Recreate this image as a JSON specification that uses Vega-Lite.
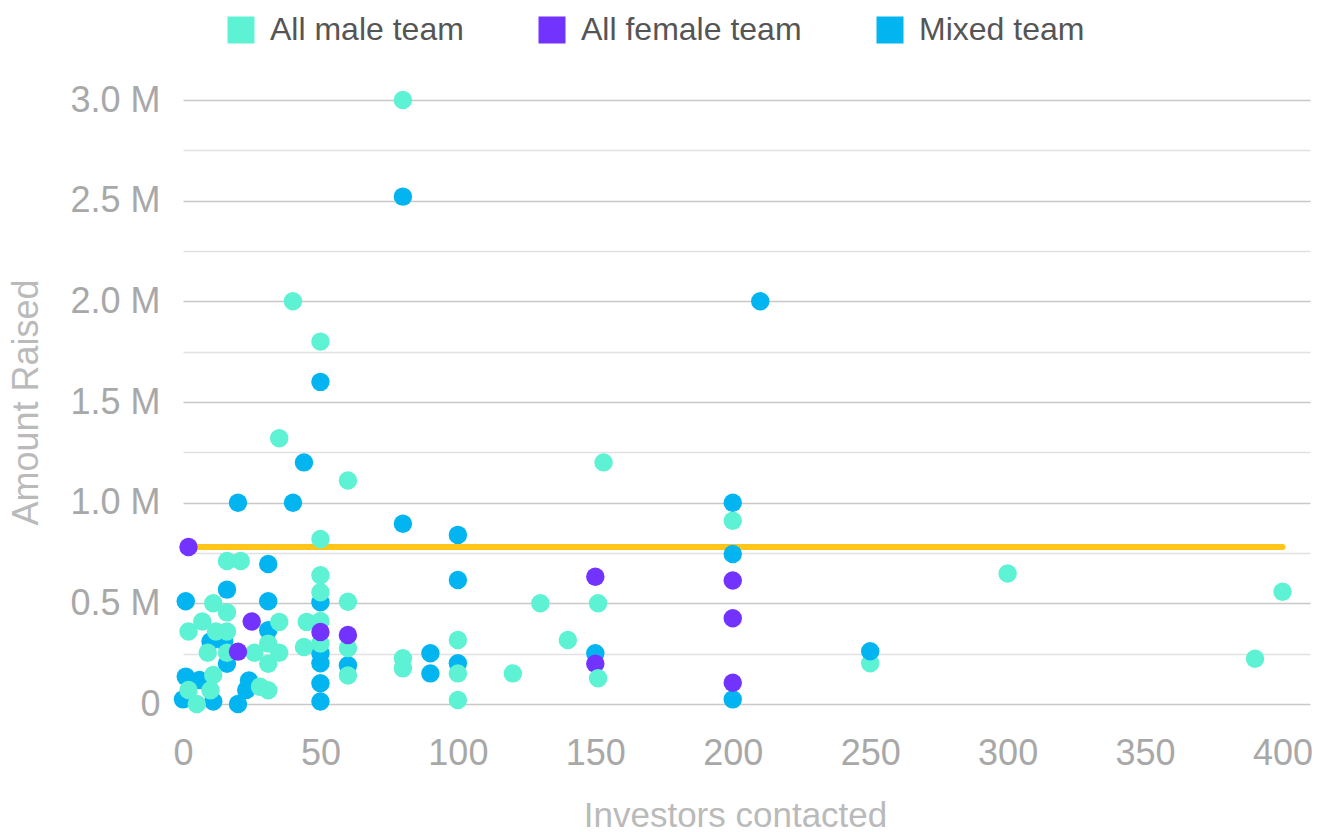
{
  "$schema": "https://vega.github.io/schema/vega-lite/v6.json",
  "width": 1127,
  "height": 604,
  "autosize": "none",
  "padding": {"left": 183, "top": 100, "right": 13, "bottom": 128},
  "config": {"view": {"stroke": null}, "font": "Liberation Sans"},
  "datasets": {
    "mean": [
      {"investors": 2, "amount": 780000},
      {"investors": 400, "amount": 780000}
    ],
    "startups": [
      {"investors": 80, "amount": 2520000, "team": "Mixed team"},
      {"investors": 210, "amount": 2000000, "team": "Mixed team"},
      {"investors": 50, "amount": 1600000, "team": "Mixed team"},
      {"investors": 44, "amount": 1200000, "team": "Mixed team"},
      {"investors": 20, "amount": 1000000, "team": "Mixed team"},
      {"investors": 40, "amount": 1000000, "team": "Mixed team"},
      {"investors": 80, "amount": 895000, "team": "Mixed team"},
      {"investors": 100, "amount": 840000, "team": "Mixed team"},
      {"investors": 31, "amount": 695000, "team": "Mixed team"},
      {"investors": 100, "amount": 616000, "team": "Mixed team"},
      {"investors": 16, "amount": 568000, "team": "Mixed team"},
      {"investors": 1, "amount": 510000, "team": "Mixed team"},
      {"investors": 31, "amount": 510000, "team": "Mixed team"},
      {"investors": 50, "amount": 505000, "team": "Mixed team"},
      {"investors": 31, "amount": 366000, "team": "Mixed team"},
      {"investors": 10, "amount": 310000, "team": "Mixed team"},
      {"investors": 15, "amount": 310000, "team": "Mixed team"},
      {"investors": 50, "amount": 252000, "team": "Mixed team"},
      {"investors": 50, "amount": 202000, "team": "Mixed team"},
      {"investors": 60, "amount": 192000, "team": "Mixed team"},
      {"investors": 16, "amount": 200000, "team": "Mixed team"},
      {"investors": 90, "amount": 252000, "team": "Mixed team"},
      {"investors": 90, "amount": 152000, "team": "Mixed team"},
      {"investors": 100, "amount": 202000, "team": "Mixed team"},
      {"investors": 150, "amount": 252000, "team": "Mixed team"},
      {"investors": 1, "amount": 136000, "team": "Mixed team"},
      {"investors": 6, "amount": 119000, "team": "Mixed team"},
      {"investors": 24, "amount": 117000, "team": "Mixed team"},
      {"investors": 23, "amount": 70000, "team": "Mixed team"},
      {"investors": 50, "amount": 103000, "team": "Mixed team"},
      {"investors": 0, "amount": 23000, "team": "Mixed team"},
      {"investors": 11, "amount": 12000, "team": "Mixed team"},
      {"investors": 20, "amount": 0, "team": "Mixed team"},
      {"investors": 50, "amount": 12000, "team": "Mixed team"},
      {"investors": 80, "amount": 3000000, "team": "All male team"},
      {"investors": 40, "amount": 2000000, "team": "All male team"},
      {"investors": 50, "amount": 1800000, "team": "All male team"},
      {"investors": 35, "amount": 1320000, "team": "All male team"},
      {"investors": 60, "amount": 1110000, "team": "All male team"},
      {"investors": 153, "amount": 1200000, "team": "All male team"},
      {"investors": 200, "amount": 910000, "team": "All male team"},
      {"investors": 50, "amount": 820000, "team": "All male team"},
      {"investors": 16, "amount": 710000, "team": "All male team"},
      {"investors": 21, "amount": 710000, "team": "All male team"},
      {"investors": 50, "amount": 640000, "team": "All male team"},
      {"investors": 50, "amount": 555000, "team": "All male team"},
      {"investors": 300, "amount": 648000, "team": "All male team"},
      {"investors": 400, "amount": 558000, "team": "All male team"},
      {"investors": 11, "amount": 500000, "team": "All male team"},
      {"investors": 60, "amount": 508000, "team": "All male team"},
      {"investors": 130, "amount": 500000, "team": "All male team"},
      {"investors": 151, "amount": 500000, "team": "All male team"},
      {"investors": 16, "amount": 455000, "team": "All male team"},
      {"investors": 7, "amount": 410000, "team": "All male team"},
      {"investors": 35, "amount": 408000, "team": "All male team"},
      {"investors": 45, "amount": 408000, "team": "All male team"},
      {"investors": 50, "amount": 412000, "team": "All male team"},
      {"investors": 2, "amount": 360000, "team": "All male team"},
      {"investors": 12, "amount": 360000, "team": "All male team"},
      {"investors": 16, "amount": 360000, "team": "All male team"},
      {"investors": 100, "amount": 318000, "team": "All male team"},
      {"investors": 140, "amount": 318000, "team": "All male team"},
      {"investors": 31, "amount": 300000, "team": "All male team"},
      {"investors": 44, "amount": 283000, "team": "All male team"},
      {"investors": 50, "amount": 300000, "team": "All male team"},
      {"investors": 60, "amount": 278000, "team": "All male team"},
      {"investors": 9, "amount": 255000, "team": "All male team"},
      {"investors": 16, "amount": 255000, "team": "All male team"},
      {"investors": 26, "amount": 255000, "team": "All male team"},
      {"investors": 35, "amount": 255000, "team": "All male team"},
      {"investors": 80, "amount": 227000, "team": "All male team"},
      {"investors": 390, "amount": 225000, "team": "All male team"},
      {"investors": 31, "amount": 200000, "team": "All male team"},
      {"investors": 250, "amount": 202000, "team": "All male team"},
      {"investors": 80, "amount": 177000, "team": "All male team"},
      {"investors": 100, "amount": 152000, "team": "All male team"},
      {"investors": 120, "amount": 152000, "team": "All male team"},
      {"investors": 11, "amount": 144000, "team": "All male team"},
      {"investors": 60, "amount": 142000, "team": "All male team"},
      {"investors": 28, "amount": 86000, "team": "All male team"},
      {"investors": 2, "amount": 70000, "team": "All male team"},
      {"investors": 10, "amount": 68000, "team": "All male team"},
      {"investors": 31, "amount": 68000, "team": "All male team"},
      {"investors": 5, "amount": 0, "team": "All male team"},
      {"investors": 100, "amount": 20000, "team": "All male team"},
      {"investors": 200, "amount": 1000000, "team": "Mixed team"},
      {"investors": 200, "amount": 745000, "team": "Mixed team"},
      {"investors": 250, "amount": 262000, "team": "Mixed team"},
      {"investors": 200, "amount": 23000, "team": "Mixed team"},
      {"investors": 2, "amount": 780000, "team": "All female team"},
      {"investors": 25, "amount": 410000, "team": "All female team"},
      {"investors": 20, "amount": 260000, "team": "All female team"},
      {"investors": 50, "amount": 358000, "team": "All female team"},
      {"investors": 60, "amount": 343000, "team": "All female team"},
      {"investors": 150, "amount": 632000, "team": "All female team"},
      {"investors": 150, "amount": 200000, "team": "All female team"},
      {"investors": 200, "amount": 613000, "team": "All female team"},
      {"investors": 200, "amount": 426000, "team": "All female team"},
      {"investors": 200, "amount": 106000, "team": "All female team"},
      {"investors": 151, "amount": 128000, "team": "All male team"}
    ]
  },
  "encoding": {
    "x": {
      "field": "investors",
      "type": "quantitative",
      "scale": {"domain": [0, 410], "nice": false, "zero": false},
      "axis": {
        "values": [0, 50, 100, 150, 200, 250, 300, 350, 400],
        "grid": false,
        "domain": false,
        "ticks": false,
        "labelFlush": false,
        "labelFontSize": 36,
        "labelColor": "#a8a8a8",
        "labelPadding": 32,
        "title": "Investors contacted",
        "titleFontSize": 35,
        "titleFontWeight": "normal",
        "titleColor": "#bababa",
        "titlePadding": 27,
        "titleX": 552
      }
    },
    "y": {
      "field": "amount",
      "type": "quantitative",
      "scale": {"domain": [0, 3000000], "nice": false},
      "axis": {
        "values": [0, 250000, 500000, 750000, 1000000, 1250000, 1500000, 1750000, 2000000, 2250000, 2500000, 2750000, 3000000],
        "labelExpr": "datum.value % 500000 === 0 ? (datum.value === 0 ? '0' : format(datum.value / 1000000, '.1f') + ' M') : ''",
        "grid": true,
        "gridColor": {"condition": {"test": "datum.value % 500000 === 0", "value": "#c8c8c8"}, "value": "#e1e1e1"},
        "gridWidth": 1.5,
        "domain": false,
        "ticks": false,
        "labelFontSize": 36,
        "labelColor": "#a8a8a8",
        "labelPadding": 23,
        "title": "Amount Raised",
        "titleFontSize": 36,
        "titleFontWeight": "normal",
        "titleColor": "#bababa",
        "titlePadding": 24
      }
    }
  },
  "layer": [
    {
      "data": {"name": "mean"},
      "mark": {"type": "line", "color": "#ffc619", "strokeWidth": 6, "strokeCap": "round"}
    },
    {
      "data": {"name": "startups"},
      "mark": {"type": "circle", "size": 340, "opacity": 1},
      "encoding": {
        "color": {
          "field": "team",
          "type": "nominal",
          "scale": {"domain": ["All male team", "All female team", "Mixed team"], "range": ["#5cf2d3", "#7233ff", "#02b5f1"]},
          "legend": {
            "orient": "none",
            "legendX": 42,
            "legendY": -86,
            "direction": "horizontal",
            "title": null,
            "symbolType": "square",
            "symbolSize": 729,
            "symbolOpacity": 1,
            "symbolStrokeWidth": 0,
            "labelFontSize": 32,
            "labelColor": "#555555",
            "labelOffset": 13,
            "columnPadding": 72,
            "labelLimit": 400
          }
        }
      }
    }
  ]
}
